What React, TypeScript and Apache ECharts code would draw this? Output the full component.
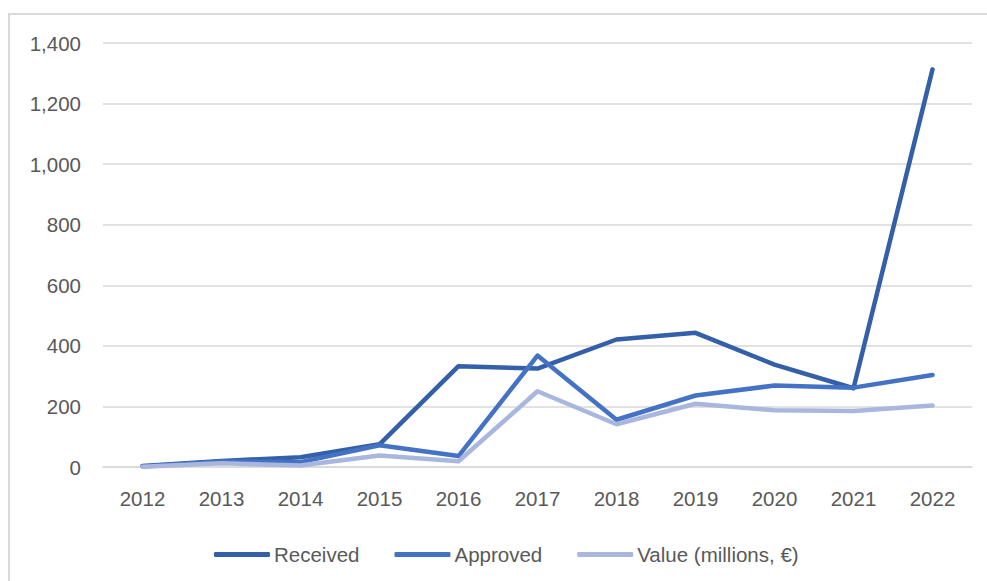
import React, { useEffect, useRef } from "react";
import * as echarts from "echarts";

const years = ["2012", "2013", "2014", "2015", "2016", "2017", "2018", "2019", "2020", "2021", "2022"];
const received = [3, 20, 32, 75, 333, 325, 421, 443, 338, 260, 1313];
const approved = [2, 18, 16, 72, 36, 368, 156, 236, 269, 262, 304];
const valueMillions = [1, 12, 5, 38, 19, 250, 141, 209, 187, 185, 203];
const seriesNames = ["Received", "Approved", "Value (millions, €)"];
const colors = ["#3360A8", "#4472C4", "#A9B7DE"];

const FONT = "'Liberation Sans', Arial, sans-serif";

export default function App() {
  const ref = useRef<HTMLDivElement>(null);
  useEffect(() => {
    if (!ref.current) return;
    const chart = echarts.init(ref.current, undefined, { renderer: "svg" });
    const data = [received, approved, valueMillions];
    chart.setOption({
      animation: false,
      backgroundColor: "#ffffff",
      textStyle: { fontFamily: FONT },
      graphic: [
        {
          type: "rect",
          shape: { x: 9, y: 14, width: 1000, height: 600 },
          style: { fill: "none", stroke: "#D9D9D9", lineWidth: 2 },
          silent: true,
          z: -1,
        },
      ],
      grid: { left: 103, right: 15, top: 43, height: 424, containLabel: false },
      xAxis: {
        type: "category",
        data: years,
        boundaryGap: true,
        axisLine: { show: true, lineStyle: { color: "#D9D9D9", width: 1.5 } },
        axisTick: { show: false },
        axisLabel: { color: "#595959", fontSize: 20.5, fontFamily: FONT, margin: 21 },
      },
      yAxis: {
        type: "value",
        min: 0,
        max: 1400,
        interval: 200,
        axisLine: { show: false },
        axisTick: { show: false },
        splitLine: { lineStyle: { color: "#D9D9D9", width: 1.5 } },
        axisLabel: {
          color: "#595959",
          fontSize: 20.5,
          fontFamily: FONT,
          margin: 22,
          formatter: (v: number) => v.toLocaleString("en-US"),
        },
      },
      legend: {
        left: 209,
        top: 539,
        icon: "roundRect",
        itemWidth: 56,
        itemHeight: 5,
        itemGap: 35,
        textStyle: { color: "#595959", fontSize: 20.5, fontFamily: FONT, padding: [0, 0, 0, -1] },
        data: seriesNames,
      },
      series: seriesNames.map((name, i) => ({
        name,
        type: "line",
        data: data[i],
        symbol: "none",
        showSymbol: false,
        color: colors[i],
        itemStyle: { color: colors[i] },
        lineStyle: { color: colors[i], width: 4.5, cap: "round", join: "round" },
      })),
    });
    return () => chart.dispose();
  }, []);
  return (
    <div
      ref={ref}
      style={{ position: "absolute", left: 0, top: 0, width: 987, height: 581 }}
    />
  );
}
